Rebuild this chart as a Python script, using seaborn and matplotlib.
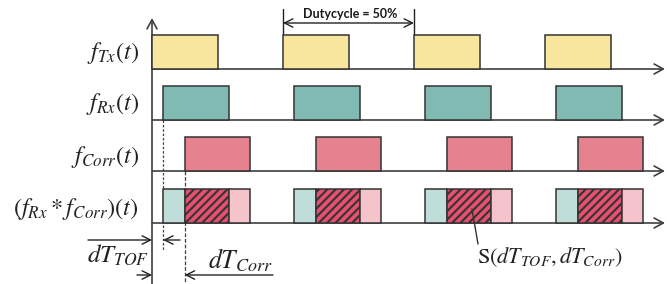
import numpy as np
import pandas as pd
import seaborn as sns
import matplotlib
matplotlib.use("Agg")
import matplotlib.pyplot as plt

# ---------------- data ----------------
pulse_starts = [0.0, 2.0, 4.0, 6.0]      # transmit pulse start times (period 2, duty 50%)
pulse_width = 1.0
dT_TOF = 0.17                              # receive delay
dT_Corr = 0.5                              # correlation window delay
signal_labels = [r"$f_{Tx}(t)$", r"$f_{Rx}(t)$", r"$f_{Corr}(t)$",
                 r"$(f_{Rx} * f_{Corr})(t)$"]
duty_label = "Dutycycle = 50%"
tof_label = r"$dT_{TOF}$"
corr_label = r"$dT_{Corr}$"
s_label = r"$\mathrm{S}(dT_{TOF}, dT_{Corr})$"

# ---------------- style ----------------
sns.set_theme(style="white")
plt.rcParams["mathtext.fontset"] = "stix"
plt.rcParams["font.family"] = ["DejaVu Sans"]
plt.rcParams["hatch.linewidth"] = 1.5

C_TX = "#F8E59E"
C_RX = "#80BAB2"
C_CORR = "#E6828F"
C_RX_L = "#BFDDD9"
C_CORR_L = "#F5C3CC"
C_HATCH = "#E6506F"
EDGE = "#333333"
AX = "#404040"

fig = plt.figure(figsize=(6.67, 2.84), dpi=100)
ax = fig.add_axes([0, 0, 1, 1])
scale = 65.5           # px per time unit
x0 = 152               # px of t=0
ax.set_xlim(-x0 / scale, (667 - x0) / scale)
ax.set_ylim(284, 0)
ax.axis("off")

def T(px):
    return (px - x0) / scale

# row layout (pixel y of baseline) and height
baselines = [69, 120, 171, 223]
h = 34.5

# build pulse table
rows = []
for s in pulse_starts:
    rows.append(dict(sig="tx", start=s, width=pulse_width, color=C_TX, hatch=None))
    rows.append(dict(sig="rx", start=s + dT_TOF, width=pulse_width, color=C_RX, hatch=None))
    rows.append(dict(sig="corr", start=s + dT_Corr, width=pulse_width, color=C_CORR, hatch=None))
    # product row: rx only, overlap, corr only
    ov_start = s + max(dT_TOF, dT_Corr)
    ov_end = s + pulse_width + min(dT_TOF, dT_Corr)
    rows.append(dict(sig="prod", start=s + dT_TOF, width=ov_start - (s + dT_TOF), color=C_RX_L, hatch=None))
    rows.append(dict(sig="prod", start=ov_start, width=ov_end - ov_start, color=C_HATCH, hatch="////"))
    rows.append(dict(sig="prod", start=ov_end, width=s + dT_Corr + pulse_width - ov_end, color=C_CORR_L, hatch=None))
df = pd.DataFrame(rows)
row_of = {"tx": 0, "rx": 1, "corr": 2, "prod": 3}

for _, r in df.iterrows():
    b = baselines[row_of[r.sig]]
    ax.bar(r.start, -h, width=r.width, bottom=b, align="edge", color=r.color,
           edgecolor=EDGE, linewidth=1.1, hatch=r.hatch, zorder=3)

# axes lines
arrow_kw = dict(arrowstyle="->,head_length=0.55,head_width=0.3", color=AX, lw=1.2,
                shrinkA=0, shrinkB=0)
for b in baselines:
    ax.annotate("", xy=(T(665), b), xytext=(T(152), b), arrowprops=arrow_kw, zorder=2)
ax.annotate("", xy=(T(152), 18), xytext=(T(152), 284), arrowprops=arrow_kw, zorder=2)

# labels
label_y = [53, 104, 157, 209]
for lab, y in zip(signal_labels, label_y):
    ax.text(T(139), y, lab, ha="right", va="center", fontsize=17.5, color="#222222")

# dashed guide lines
ax.plot([dT_TOF, dT_TOF], [120, 250], ls=(0, (2, 1.5)), color=AX, lw=0.9, zorder=1)
ax.plot([dT_Corr, dT_Corr], [171, 284], ls=(0, (3, 1.5)), color=AX, lw=0.9, zorder=1)

# dT_TOF arrows
small = dict(arrowstyle="->,head_length=0.5,head_width=0.25", color="#222222", lw=1.0,
             shrinkA=0, shrinkB=0)
ax.annotate("", xy=(0, 240), xytext=(T(88), 240), arrowprops=small)
ax.annotate("", xy=(dT_TOF, 240), xytext=(T(180), 240), arrowprops=small)
ax.text(T(118), 255, tof_label, ha="center", va="center", fontsize=18, color="#222222")

# dT_Corr arrows
ax.annotate("", xy=(0, 275), xytext=(T(137), 275), arrowprops=small)
ax.annotate("", xy=(dT_Corr, 275), xytext=(T(273), 275), arrowprops=small)
ax.text(T(240), 261, corr_label, ha="center", va="center", fontsize=18.5, color="#222222")

# duty cycle annotation
ax.plot([pulse_starts[1]] * 2, [9, 34], color="#222222", lw=1.0)
ax.plot([pulse_starts[2]] * 2, [9, 34], color="#222222", lw=1.0)
ax.annotate("", xy=(pulse_starts[1], 23), xytext=(pulse_starts[2], 23),
            arrowprops=dict(arrowstyle="<->,head_length=0.5,head_width=0.25", color="#222222",
                            lw=1.0, shrinkA=0, shrinkB=0))
ax.text(T(350), 14, duty_label, ha="center", va="center",
        fontsize=9, fontweight="bold", color="#1a1a1a", family=["Lato", "DejaVu Sans"])

# S annotation
ax.plot([T(472), T(478)], [209, 244], color="#333333", lw=1.0, zorder=4)
ax.text(T(550), 257, s_label, ha="center", va="center", fontsize=16, color="#222222")

fig.savefig("out.png", dpi=100)
